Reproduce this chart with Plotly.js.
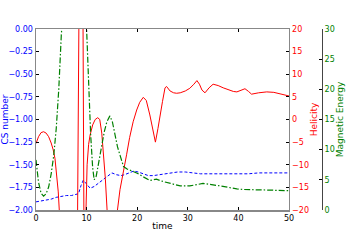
<!DOCTYPE html>
<html><head><meta charset="utf-8">
<script src="https://cdn.plot.ly/plotly-3.0.1.min.js"></script>
<style>html,body{margin:0;padding:0;background:#fff}#chart{width:361px;height:241px}</style>
</head><body><div id="chart"></div>
<script>
// CS number (blue, dashed)
const csTime = [0,1,2,3,4,5,6,7,8,8.4,8.9,9.35,9.8,10.3,10.7,11.5,12.65,13.5,14.3,15,15.9,16.8,17.5,18.5,19.3,20.2,21.2,22.2,23.2,24.2,25.2,26.5,28,29.5,31,32.5,34,36,38,40,42,44,46,48,50];
const csValue = [-1.91,-1.90,-1.89,-1.88,-1.86,-1.85,-1.84,-1.84,-1.83,-1.82,-1.73,-1.67,-1.70,-1.74,-1.76,-1.74,-1.69,-1.66,-1.62,-1.59,-1.61,-1.62,-1.61,-1.59,-1.57,-1.58,-1.60,-1.62,-1.62,-1.61,-1.60,-1.59,-1.58,-1.58,-1.59,-1.60,-1.60,-1.60,-1.60,-1.60,-1.60,-1.59,-1.59,-1.59,-1.59];
// Helicity (red, solid)
const helTime = [0,0.5,1,1.5,2,2.5,3,3.4,3.75,4.1,4.4,4.6,5,6,7,7.8,8.2,8.4,8.5,8.8,9.1,9.3,9.35,9.5,9.7,9.88,10.1,10.4,10.7,11.2,11.7,12.2,12.6,13,13.3,13.7,14.05,14.5,15,15.5,16.1,16.6,17.2,17.9,18.5,19.2,19.9,20.5,21.2,21.8,22.5,23.1,23.6,24.1,24.5,25,25.5,25.8,26.5,27.2,27.8,28.5,29.5,30.4,31.2,31.8,32.3,32.8,33.4,34.2,35,36,37,37.7,39,39.7,40.6,41.3,42,42.6,44,45.6,47,48.5,50];
const helValue = [-5.3,-3.8,-2.9,-2.7,-3.0,-3.8,-5.2,-6.7,-8.6,-12,-16,-20,-27,-35,-35,-30,-24,0,25,40,35,20,-20,-30,-28,-20,-10,-5.5,-3.4,-1.2,0,0.4,0,-3,-7,-13,-20,-28,-31,-28,-20,-15.5,-11.5,-7.8,-4,-0.5,2.1,3.8,4.9,4.2,1.0,-2.5,-5.0,-2,0.3,4,7.0,7.3,6.3,5.9,5.8,5.9,6.3,6.9,7.8,8.6,7.8,6.5,5.9,7.0,7.8,7.5,7.0,6.7,6.2,6.1,6.4,6.8,6.2,5.6,5.9,6.1,6.0,5.6,5.2];
// Magnetic energy (green, dash-dot)
const enTime = [0,0.5,1,1.5,2,2.5,3,3.5,4,4.5,5,5.5,6,7,8,9,9.5,10,10.4,10.8,11.2,11.5,11.9,12.5,13,13.5,14,14.6,15.1,15.6,16.1,16.6,17.3,18,19.2,20,21.2,22.5,23.8,25.2,27.1,28.5,30.4,33,36.4,38,39.7,41,43.6,46,50];
const enValue = [8.3,4.6,2.8,2.3,2.7,3.8,6.0,9.0,13.5,20,29,38,46,52,52,45,38,30,20,12.5,7,5.0,5.6,8.5,11,13,14.6,15.6,14.6,12.4,10.5,9.1,7.2,6.8,6.4,6.1,5.5,4.9,5.1,4.7,4.3,4.0,4.0,4.4,4.0,3.7,3.5,3.4,3.3,3.3,3.2];

const xTicks = [0,10,20,30,40,50];
const csTicks = [-2.00,-1.75,-1.50,-1.25,-1.00,-0.75,-0.50,-0.25,0.00];
const helTicks = [-20,-15,-10,-5,0,5,10,15,20];
const enTicks = [0,5,10,15,20,25,30];

const F = 'DejaVu Sans, sans-serif';
const traces = [
  {x: csTime, y: csValue, type:'scatter', mode:'lines', yaxis:'y', line:{color:'#0000ff', width:1, dash:'3px,2px'}},
  {x: helTime, y: helValue, type:'scatter', mode:'lines', yaxis:'y2', line:{color:'#ff0000', width:1}},
  {x: enTime, y: enValue, type:'scatter', mode:'lines', yaxis:'y3', line:{color:'#008000', width:1.2, dash:'6px,2px,1.5px,2px'}}
];
const layout = {
  width:361, height:241, showlegend:false,
  paper_bgcolor:'#fff', plot_bgcolor:'#fff',
  margin:{l:36, r:39, t:29, b:31},
  font:{family:F, size:8, color:'#000'},
  xaxis:{domain:[0,0.8846], range:[0,50], tickvals:xTicks, ticktext:xTicks.map(String),
    showgrid:false, zeroline:false, showline:true, linecolor:'#888', linewidth:1.5, mirror:'ticks',
    ticks:'inside', ticklen:3, tickcolor:'#000', tickfont:{size:8, color:'#000'},
    title:{text:'time', font:{size:9, color:'#000'}, standoff:0}},
  yaxis:{range:[-2,0], tickvals:csTicks, ticktext:csTicks.map(v=>v.toFixed(2).replace('-','\u2212')),
    showgrid:false, zeroline:false, showline:true, linecolor:'#888', linewidth:1.5,
    ticks:'inside', ticklen:3, tickcolor:'#000', tickfont:{size:8, color:'#0000ff'},
    title:{text:'CS number', font:{size:9, color:'#0000ff'}, standoff:1}},
  yaxis2:{range:[-20,20], overlaying:'y', side:'right', anchor:'x', tickvals:helTicks,
    ticktext:helTicks.map(v=>String(v).replace('-','\u2212')),
    showgrid:false, zeroline:false, showline:true, linecolor:'#888', linewidth:1.5,
    ticks:'inside', ticklen:3, tickcolor:'#000', tickfont:{size:8, color:'#ff0000'},
    title:{text:'Helicity', font:{size:9, color:'#ff0000'}, standoff:2}},
  yaxis3:{range:[0,30], overlaying:'y', side:'right', anchor:'free', position:1, tickvals:enTicks,
    ticktext:enTicks.map(String),
    showgrid:false, zeroline:false, showline:true, linecolor:'#444', linewidth:1,
    ticks:'inside', ticklen:3, tickcolor:'#000', tickfont:{size:8, color:'#008000'},
    title:{text:'Magnetic Energy', font:{size:9, color:'#008000'}, standoff:2}}
};
Plotly.newPlot('chart', traces, layout, {staticPlot:true, displayModeBar:false});
</script></body></html>
